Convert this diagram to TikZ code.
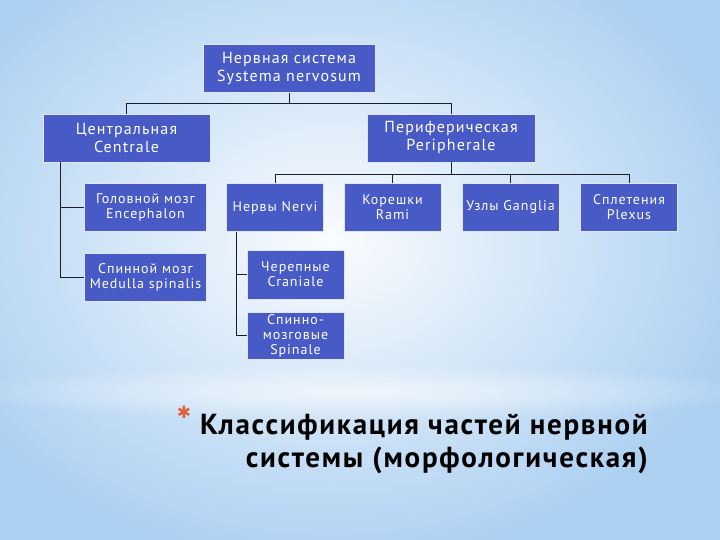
\documentclass[tikz,border=0pt]{standalone}
\usepackage{fontspec}
\setmainfont{PT Sans}
\newfontfamily\boxfont{PT Sans}[LetterSpace=7]
\newfontfamily\titlefont{PT Sans}[LetterSpace=6]
\newfontfamily\symfont{DejaVu Sans}
\usetikzlibrary{fadings}
\tikzfading[name=glow, inner color=transparent!0, outer color=transparent!100]
\definecolor{bgbase}{RGB}{172,208,242}
\definecolor{boxblue}{RGB}{72,90,198}
\definecolor{boxedge}{RGB}{225,230,240}
\definecolor{linecol}{RGB}{25,30,45}
\definecolor{starcol}{RGB}{225,95,60}
\tikzset{
  box/.style={draw=boxedge, line width=0.8pt, fill=boxblue, text=white, align=center, inner sep=2pt},
  bigbox/.style={box, minimum width=171pt, minimum height=48pt, font=\boxfont\fontsize{16}{18}\selectfont},
  smallbox/.style={box, minimum width=97pt, minimum height=48pt, font=\boxfont\fontsize{14}{15}\selectfont},
  widebox/.style={box, minimum width=122pt, minimum height=48pt, font=\boxfont\fontsize{14}{15}\selectfont},
  conn/.style={draw=linecol, line width=0.9pt}
}
\begin{document}
\begin{tikzpicture}[x=1pt,y=-1pt]
\useasboundingbox (0,0) rectangle (720,540);
% background
\fill[bgbase] (0,0) rectangle (720,540);
\fill[white, path fading=glow, opacity=0.95] (330,240) ellipse (430 and 330);
\fill[white, path fading=glow, opacity=0.6] (360,392) ellipse (420 and 28);
% nodes
\node[bigbox, minimum width=172pt] (top) at (289,68.5) {Нервная система\\Systema nervosum};
\node[bigbox, minimum width=167pt] (cent) at (126.5,138) {Центральная\\Centrale};
\node[bigbox, minimum width=168pt] (peri) at (451,138) {Периферическая\\Peripherale};
\node[widebox] (head) at (145.5,207) {Головной мозг\\Encephalon};
\node[widebox] (spine) at (145.5,277) {Спинной мозг\\Medulla spinalis};
\node[smallbox] (nervi) at (275,207.5) {Нервы Nervi};
\node[smallbox] (kor) at (392.5,207.5) {Корешки\\Rami};
\node[smallbox] (uzl) at (510.5,207.5) {Узлы Ganglia};
\node[smallbox] (spl) at (629,207.5) {Сплетения\\Plexus};
\node[smallbox, minimum height=49pt] (cran) at (295.5,274.5) {Черепные\\Craniale};
\node[smallbox, minimum height=47pt] (spin) at (295.5,335.5) {Спинно-\\мозговые\\Spinale};
% connectors
\draw[conn] (top.south) -- ++(0,10.5) -| (cent.north);
\draw[conn] (top.south) -- ++(0,10.5) -| (peri.north);
\draw[conn] ([xshift=-66.5pt]cent.south) |- (head.west);
\draw[conn] ([xshift=-66.5pt]cent.south) |- (spine.west);
\draw[conn] (peri.south) -- ++(0,12) -| (nervi.north);
\draw[conn] (peri.south) -- ++(0,12) -| (kor.north);
\draw[conn] (peri.south) -- ++(0,12) -| (uzl.north);
\draw[conn] (peri.south) -- ++(0,12) -| (spl.north);
\draw[conn] ([xshift=-39pt]nervi.south) |- (cran.west);
\draw[conn] ([xshift=-39pt]nervi.south) |- (spin.west);
% title
\node[text=starcol, font=\symfont\fontsize{17}{17}\selectfont] (star) at (184,412) {✱};
\node[anchor=north east, align=right, font=\titlefont\bfseries\fontsize{29}{33}\selectfont, text=black, inner sep=0pt] (title) at (648,414) {Классификация частей нервной\\системы (морфологическая)};
\end{tikzpicture}
\end{document}
